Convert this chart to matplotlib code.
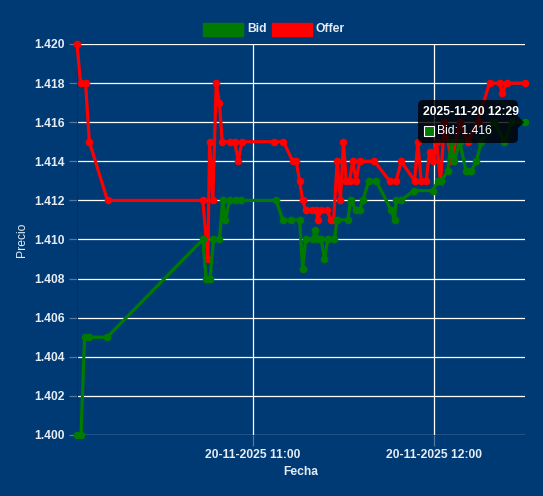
import pandas as pd
import numpy as np
import matplotlib.pyplot as plt
import matplotlib.dates as mdates
from matplotlib.patches import FancyBboxPatch, Rectangle, Polygon

plt.rcParams['font.family'] = ['Liberation Sans', 'DejaVu Sans']

dia = '2025-11-20 '

# Bid (verde)
bid_horas = ['10:01:50', '10:03:10', '10:04:20', '10:05:55', '10:11:48', '10:43:25',
             '10:44:31', '10:45:51', '10:46:56', '10:48:55', '10:50:00', '10:50:54',
             '10:52:15', '10:54:27', '10:56:06', '11:07:40', '11:09:51', '11:12:38',
             '11:15:25', '11:16:25', '11:17:25', '11:19:46', '11:20:34', '11:21:25',
             '11:22:32', '11:23:38', '11:24:44', '11:26:56', '11:27:46', '11:31:20',
             '11:32:18', '11:34:07', '11:35:13', '11:36:18', '11:38:17', '11:40:44',
             '11:45:41', '11:46:47', '11:47:20', '11:49:00', '11:53:04', '11:59:26',
             '12:01:06', '12:02:13', '12:04:24', '12:05:30', '12:06:36', '12:08:16',
             '12:10:28', '12:12:08', '12:13:47', '12:15:32', '12:19:50', '12:23:08',
             '12:25:28', '12:29:55']
bid_precio = [1.400, 1.400, 1.405, 1.405, 1.405, 1.410,
              1.408, 1.408, 1.410, 1.410, 1.412, 1.411,
              1.412, 1.412, 1.412, 1.412, 1.411, 1.411,
              1.411, 1.4085, 1.410, 1.410, 1.4105, 1.410,
              1.410, 1.409, 1.410, 1.410, 1.411, 1.411,
              1.412, 1.4115, 1.4115, 1.412, 1.413, 1.413,
              1.4115, 1.411, 1.412, 1.412, 1.4125, 1.4125,
              1.413, 1.413, 1.4135, 1.415, 1.414, 1.415,
              1.4135, 1.4135, 1.414, 1.415, 1.416, 1.415,
              1.416, 1.416]

# Offer (rojo)
offer_horas = ['10:01:50', '10:03:00', '10:04:40', '10:05:55', '10:11:55', '10:43:25',
               '10:45:05', '10:45:40', '10:46:45', '10:47:50', '10:48:55', '10:49:50',
               '10:52:15', '10:53:55', '10:55:10', '10:56:20', '11:07:05', '11:10:05',
               '11:13:10', '11:14:17', '11:15:25', '11:16:25', '11:17:25', '11:19:40',
               '11:20:55', '11:21:30', '11:22:20', '11:24:20', '11:25:50', '11:26:40',
               '11:27:50', '11:28:55', '11:29:55', '11:30:50', '11:31:55', '11:33:00',
               '11:34:07', '11:35:13', '11:40:10', '11:45:08', '11:47:20', '11:49:00',
               '11:53:24', '11:54:29', '11:55:36', '11:57:16', '11:58:21', '11:59:26',
               '12:00:40', '12:02:00', '12:03:18', '12:05:38', '12:08:16', '12:10:55',
               '12:14:13', '12:18:11', '12:21:30', '12:22:23', '12:23:54', '12:29:55']
offer_precio = [1.420, 1.418, 1.418, 1.415, 1.412, 1.412,
                1.409, 1.415, 1.412, 1.418, 1.417, 1.415,
                1.415, 1.415, 1.414, 1.415, 1.415, 1.415,
                1.414, 1.414, 1.413, 1.412, 1.4115, 1.4115,
                1.4115, 1.411, 1.4115, 1.4115, 1.411, 1.411,
                1.414, 1.412, 1.415, 1.413, 1.413, 1.414,
                1.413, 1.414, 1.414, 1.413, 1.413, 1.414,
                1.413, 1.415, 1.413, 1.413, 1.4145, 1.414,
                1.415, 1.413, 1.416, 1.414, 1.416, 1.415,
                1.416, 1.418, 1.418, 1.4175, 1.418, 1.418]

ticks_x = ['11:00:00', '12:00:00']
ticks_y = [1.400, 1.402, 1.404, 1.406, 1.408, 1.410, 1.412, 1.414, 1.416, 1.418, 1.420]

fondo = '#003a75'
grid_c = (1, 1, 1, 0.32)
texto = '#e6ecf3'

bid_t = pd.to_datetime([dia + h for h in bid_horas])
offer_t = pd.to_datetime([dia + h for h in offer_horas])

fig = plt.figure(figsize=(5.43, 4.96), dpi=100, facecolor=fondo)
ax = fig.add_axes([77 / 543, 1 - 435 / 496, 448 / 543, 391 / 496], facecolor=fondo)

ax.plot(offer_t, offer_precio, color='#ff0000', lw=2.3, marker='o', ms=4.5,
        solid_joinstyle='miter', zorder=3, label='Offer', clip_on=False)
ax.plot(bid_t, bid_precio, color='#007a00', lw=2.3, marker='o', ms=4.5,
        solid_joinstyle='miter', zorder=4, label='Bid', clip_on=False)

ax.set_xlim(min(bid_t.min(), offer_t.min()), max(bid_t.max(), offer_t.max()))
ax.set_ylim(1.400, 1.420)
ax.set_xticks(pd.to_datetime([dia + h for h in ticks_x]))
ax.xaxis.set_major_formatter(mdates.DateFormatter('%d-%m-%Y %H:%M'))
ax.set_yticks(ticks_y)
ax.set_yticklabels(['%.3f' % v for v in ticks_y])
ax.grid(True, color=grid_c, lw=0.9)
ax.tick_params(axis='y', colors=grid_c, length=6, width=0.9, pad=3, labelcolor=texto, labelsize=8.7)
ax.tick_params(axis='x', colors=grid_c, length=8, width=0.9, pad=2, labelcolor=texto, labelsize=8.7)
for lab in ax.get_xticklabels() + ax.get_yticklabels():
    lab.set_fontweight('bold')
for s in ['top', 'right', 'bottom']:
    ax.spines[s].set_visible(False)
ax.spines['left'].set_color('#02306a')

ax.set_xlabel('Fecha', color=texto, fontsize=8.7, fontweight='bold', labelpad=4)
ax.set_ylabel('Precio', color=texto, fontsize=8.7, labelpad=4)

# leyenda
fig.patches.append(Rectangle((203 / 543, 1 - 36 / 496), 40 / 543, 13 / 496,
                             transform=fig.transFigure, color='#007a00', zorder=5))
fig.text(247 / 543, 1 - 29 / 496, 'Bid', color=texto, fontsize=8.7, fontweight='bold', va='center')
fig.patches.append(Rectangle((272 / 543, 1 - 36 / 496), 40 / 543, 13 / 496,
                             transform=fig.transFigure, color='#ff0000', zorder=5))
fig.text(316 / 543, 1 - 29 / 496, 'Offer', color=texto, fontsize=8.7, fontweight='bold', va='center')

# tooltip del ultimo punto
ult_t, ult_p = bid_t[-1], bid_precio[-1]
px, py = ax.transData.transform((mdates.date2num(ult_t), ult_p))
fx, fy = px / 543, py / 496
box = FancyBboxPatch((418 / 543, 1 - 143 / 496), 100 / 543, 43 / 496,
                     boxstyle='round,pad=0,rounding_size=0.01', transform=fig.transFigure,
                     facecolor=(0, 0, 0, 0.8), edgecolor='none', zorder=10)
fig.patches.append(box)
fig.patches.append(Polygon([(518 / 543, fy + 6 / 496), (518 / 543, fy - 6 / 496), (fx - 1 / 543, fy)],
                           closed=True, transform=fig.transFigure,
                           facecolor=(0, 0, 0, 0.8), edgecolor='none', zorder=10))
fig.text(423 / 543, 1 - 112 / 496, ult_t.strftime('%Y-%m-%d %H:%M'), color='white',
         fontsize=8.7, fontweight='bold', va='center', zorder=11)
fig.patches.append(Rectangle((424 / 543, 1 - 136 / 496), 10 / 543, 10 / 496,
                             transform=fig.transFigure, facecolor='#007a00', edgecolor='white',
                             lw=0.8, zorder=11))
fig.text(437 / 543, 1 - 131 / 496, 'Bid: %.3f' % ult_p, color='white', fontsize=8.7,
         va='center', zorder=11)

fig.savefig('out.png', dpi=100, facecolor=fondo)
